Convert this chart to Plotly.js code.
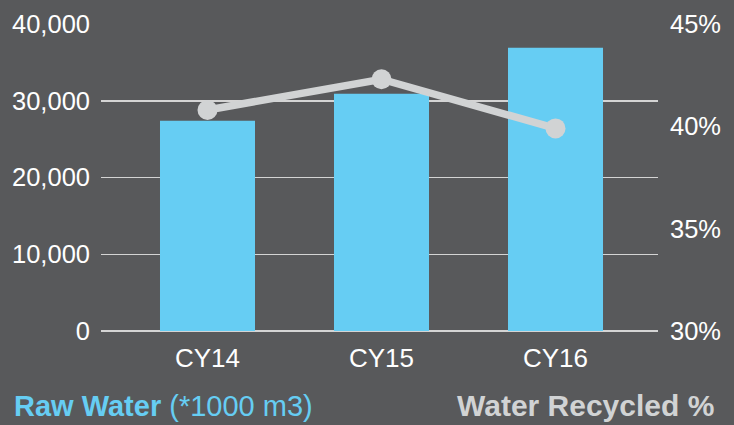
<!DOCTYPE html>
<html>
<head>
<meta charset="utf-8">
<script src="https://cdn.plot.ly/plotly-3.0.1.min.js"></script>
<style>html,body{margin:0;padding:0;background:#58595b;}#chart{width:734px;height:425px;}</style>
</head>
<body>
<div id="chart"></div>
<script>
const categories = ["CY14", "CY15", "CY16"];
const rawWater = [27400, 30900, 36900];
const recycledPct = [40.8, 42.3, 39.9];
const leftTicks = [0, 10000, 20000, 30000, 40000];
const rightTicks = [30, 35, 40, 45];
const rightTickLabels = ["30%", "35%", "40%", "45%"];

const bg = "#58595b";
const blue = "#66cdf3";
const gray = "#d1d3d4";
const fontFam = "Liberation Sans, Arial, sans-serif";

const xs = categories.map((c, i) => i);

const traces = [
  {
    type: "bar",
    x: xs,
    y: rawWater,
    width: 0.546,
    marker: {color: blue, line: {width: 0}},
    hoverinfo: "none",
    yaxis: "y"
  },
  {
    type: "scatter",
    mode: "lines+markers",
    x: xs,
    y: recycledPct,
    line: {color: gray, width: 7.5},
    marker: {color: gray, size: 20},
    hoverinfo: "none",
    yaxis: "y2"
  }
];

const tickFont = {size: 25.5, color: "#ffffff", family: fontFam};

const layout = {
  width: 734,
  height: 425,
  paper_bgcolor: bg,
  plot_bgcolor: bg,
  showlegend: false,
  margin: {l: 101, r: 76, t: 24, b: 94},
  font: {family: fontFam, color: "#ffffff", size: 24},
  xaxis: {
    range: [-0.612, 2.589],
    tickvals: xs,
    ticktext: categories,
    showgrid: false,
    zeroline: false,
    showline: false,
    ticks: "",
    ticklabelstandoff: 9,
    tickfont: {size: 26, color: "#ffffff", family: fontFam},
    fixedrange: true
  },
  yaxis: {
    range: [0, 40000],
    tickvals: leftTicks,
    tickformat: ",d",
    showgrid: true,
    gridcolor: "#d4d4d4",
    gridwidth: 1.5,
    zeroline: true,
    zerolinecolor: "#d4d4d4",
    zerolinewidth: 1.5,
    showline: false,
    ticks: "",
    ticklabelstandoff: 10,
    tickfont: tickFont,
    fixedrange: true
  },
  yaxis2: {
    range: [30, 45],
    tickvals: rightTicks,
    ticktext: rightTickLabels,
    overlaying: "y",
    side: "right",
    showgrid: false,
    zeroline: false,
    showline: false,
    ticks: "",
    ticklabelstandoff: 11,
    tickfont: tickFont,
    fixedrange: true
  },
  annotations: [
    {
      xref: "paper", yref: "paper",
      x: -89/557, y: 0,
      xanchor: "left", yanchor: "bottom",
      showarrow: false,
      text: "<b>Raw Water</b> (*1000 m3)",
      font: {size: 29, color: blue, family: fontFam}
    },
    {
      xref: "paper", yref: "paper",
      x: 1 + 58/557, y: 0,
      xanchor: "right", yanchor: "bottom",
      showarrow: false,
      text: "<b>Water Recycled %</b>",
      font: {size: 30, color: gray, family: fontFam}
    }
  ]
};

const plotH = 425 - 24 - 94;
layout.annotations[0].y = -(94 - 1) / plotH;
layout.annotations[1].y = -(94 - 1) / plotH;

Plotly.newPlot("chart", traces, layout, {displayModeBar: false, staticPlot: true});
</script>
</body>
</html>
